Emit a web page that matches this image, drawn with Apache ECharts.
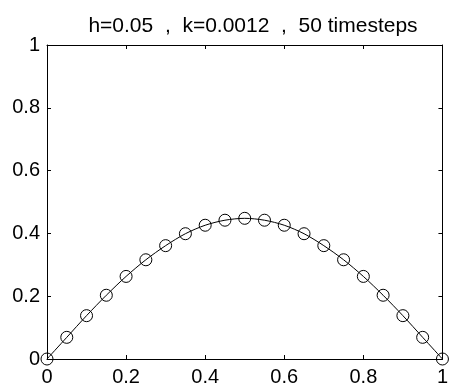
<!DOCTYPE html>
<html>
<head>
<meta charset="utf-8">
<script src="https://cdn.jsdelivr.net/npm/echarts@6/dist/echarts.min.js"></script>
<style>
  html, body { margin: 0; padding: 0; background: #fff; }
  #chart { width: 451px; height: 387px; }
</style>
</head>
<body>
<div id="chart"></div>
<script>
// Grid nodes and computed solution values after 50 time steps
const xNodes = [0, 0.05, 0.1, 0.15, 0.2, 0.25, 0.3, 0.35, 0.4, 0.45, 0.5,
                0.55, 0.6, 0.65, 0.7, 0.75, 0.8, 0.85, 0.9, 0.95, 1];
const uValues = [0, 0.069, 0.138, 0.203, 0.263, 0.316, 0.361, 0.399, 0.426, 0.442, 0.448,
                 0.442, 0.426, 0.399, 0.361, 0.316, 0.263, 0.203, 0.138, 0.069, 0];
const xTicks = [0, 0.2, 0.4, 0.6, 0.8, 1];
const yTicks = [0, 0.2, 0.4, 0.6, 0.8, 1];
const titleText = 'h=0.05  ,  k=0.0012  ,  50 timesteps';

const FONT = '"Liberation Sans", Arial, Helvetica, sans-serif';
const points = xNodes.map((x, i) => [x, uValues[i]]);

function tickFmt(v) {
  return String(+v.toFixed(1));
}

// shared settings for the four sides of the axes box
const boxAxis = {
  min: 0, max: 1, interval: 0.2,
  axisLine: { show: true, onZero: false, lineStyle: { color: '#000', width: 1 } },
  axisTick: { show: true, inside: true, length: 4, lineStyle: { color: '#000', width: 1 } },
  splitLine: { show: false }
};

const chart = echarts.init(document.getElementById('chart'), null, { renderer: 'canvas' });
chart.setOption({
  backgroundColor: '#fff',
  animation: false,
  title: {
    text: titleText,
    left: 248,
    top: 11,
    textAlign: 'center',
    textStyle: { fontFamily: FONT, fontSize: 21, fontWeight: 'normal', color: '#000' }
  },
  grid: { left: 47, right: 3, top: 45, bottom: 25, containLabel: false },
  xAxis: [
    Object.assign({}, boxAxis, {
      type: 'value', position: 'bottom',
      axisLabel: {
        show: true, margin: 8, color: '#000', fontFamily: FONT, fontSize: 20,
        formatter: v => xTicks.includes(+v.toFixed(1)) ? tickFmt(v) : ''
      }
    }),
    Object.assign({}, boxAxis, { type: 'value', position: 'top', axisLabel: { show: false } })
  ],
  yAxis: [
    Object.assign({}, boxAxis, {
      type: 'value', position: 'left',
      axisLabel: {
        show: true, margin: 7, color: '#000', fontFamily: FONT, fontSize: 20,
        formatter: v => yTicks.includes(+v.toFixed(1)) ? tickFmt(v) : ''
      }
    }),
    Object.assign({}, boxAxis, { type: 'value', position: 'right', axisLabel: { show: false } })
  ],
  series: [
    {
      type: 'line',
      data: points,
      smooth: 0.3,
      symbol: 'circle',
      symbolSize: 12,
      showAllSymbol: true,
      clip: false,
      lineStyle: { color: '#000', width: 1 },
      itemStyle: { color: 'transparent', borderColor: '#000', borderWidth: 1 }
    }
  ]
});
</script>
</body>
</html>
